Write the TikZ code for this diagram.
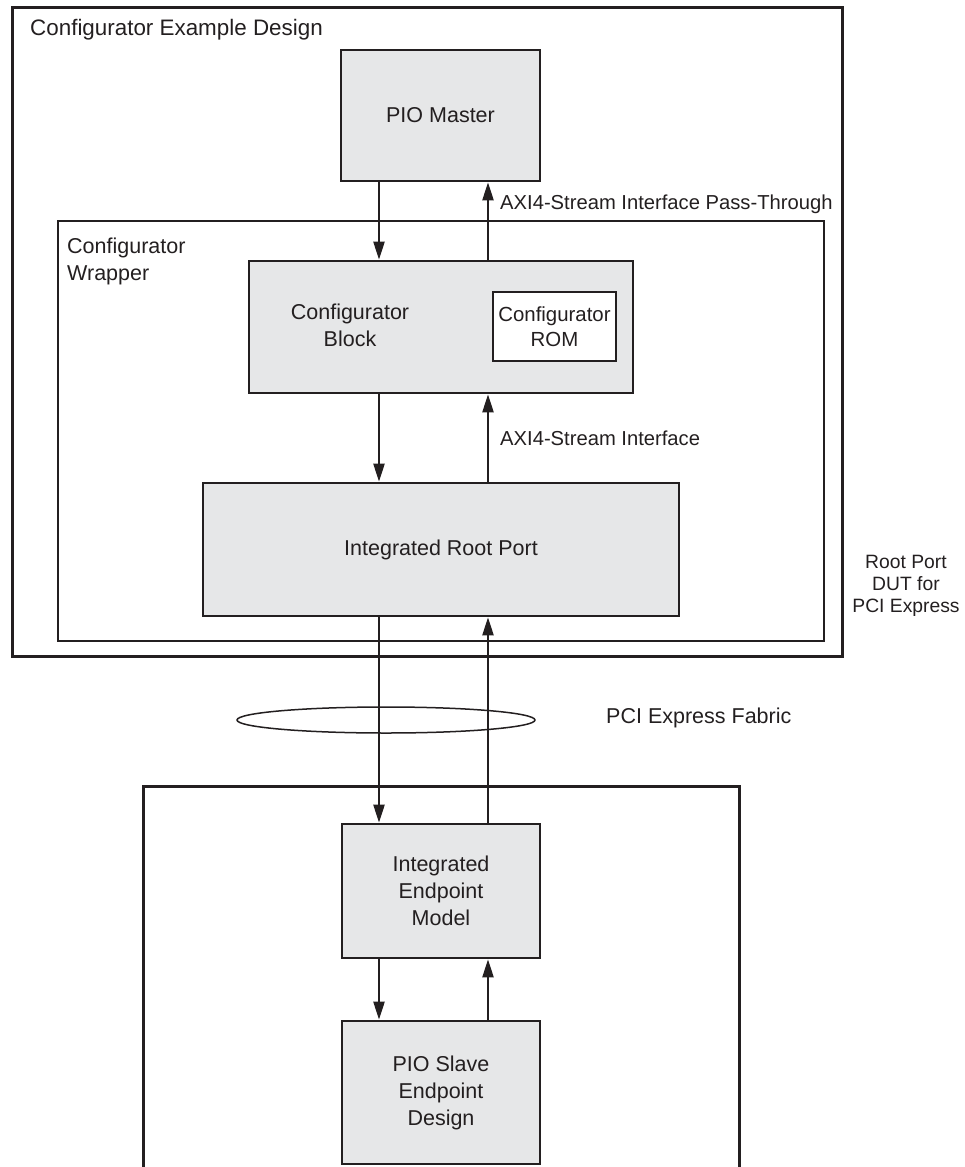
\documentclass[tikz,border=0pt]{standalone}
\usepackage{fontspec}
\setmainfont{Liberation Sans}
\usetikzlibrary{positioning, arrows.meta, shapes.geometric}
\definecolor{ink}{HTML}{231F20}
\definecolor{blockgray}{HTML}{E6E7E8}
\tikzset{
  frame/.style ={draw=ink, line width=3pt},
  wrap/.style  ={draw=ink, line width=2.6pt},
  blk/.style   ={draw=ink, fill=blockgray, line width=2.6pt, inner sep=0pt},
  rom/.style   ={draw=ink, fill=white, line width=2.6pt, inner sep=0pt},
  flow/.style  ={-{Triangle[length=18pt, width=11pt]}, draw=ink, line width=2.2pt},
  lbl/.style   ={font=\fontsize{21.5}{27}\selectfont, text=ink, align=center, inner sep=0pt},
  side/.style  ={lbl, font=\fontsize{20.2}{25}\selectfont, anchor=west},
}

\begin{document}
\begin{tikzpicture}[x=1pt, y=-1pt]
  \useasboundingbox (0,0) rectangle (964,1167);
  % frames
  \draw[frame] (12,7) rectangle (842,656);
  \draw[wrap] (58,221) rectangle (824,641);
  \draw[frame] (143,1175) |- (739,786) -- (739,1175);
  \node[lbl, font=\fontsize{22.4}{27}\selectfont, anchor=base west] (ttl) at (30,35) {Configurator Example Design};
  \node[lbl, anchor=north west, align=left] (wtl) at (67,238) {Configurator\\Wrapper};
  % blocks
  \node[blk, minimum width=199, minimum height=131] (pio) at (440.5,115.5) {};
  \node[lbl] at (pio.center) {PIO Master};
  \node[blk, minimum width=384, minimum height=132] (cfg) at (441,327) {};
  \node[lbl] at (350,325) {Configurator\\Block};
  \node[rom, minimum width=123, minimum height=69] (rom) at (554.5,326.5) {};
  \node[lbl, font=\fontsize{20.4}{25}\selectfont] at (rom.center) {Configurator\\ROM};
  \node[blk, minimum width=476, minimum height=133] (rp) at (441,549.5) {};
  \node[lbl] at (rp.center) {Integrated Root Port};
  \node[blk, minimum width=198, minimum height=134] (ep) at (441,891) {};
  \node[lbl] at (ep.center) {Integrated\\Endpoint\\Model};
  \node[blk, minimum width=198, minimum height=143] (pio2) at (441,1092.5) {};
  \node[lbl] at (pio2.center) {PIO Slave\\Endpoint\\Design};
  % fabric
  \node[draw=ink, ellipse, line width=1.5pt, minimum width=298, minimum height=26, inner sep=0pt] (fab) at (386,720) {};
  % connectors
  \coordinate (dn) at (379,0);
  \coordinate (up) at (488,0);
  \draw[flow] (pio.south -| dn) -- (cfg.north -| dn);
  \draw[flow] (cfg.north -| up) -- (pio.south -| up);
  \draw[flow] (cfg.south -| dn) -- (rp.north -| dn);
  \draw[flow] (rp.north -| up) -- (cfg.south -| up);
  \draw[flow] (rp.south -| dn) -- (ep.north -| dn);
  \draw[flow] (ep.north -| up) -- (rp.south -| up);
  \draw[flow] (ep.south -| dn) -- (pio2.north -| dn);
  \draw[flow] (pio2.north -| up) -- (ep.south -| up);
  % labels
  \node[side] at (500,204) {AXI4-Stream Interface Pass-Through};
  \node[side] at (500,438) {AXI4-Stream Interface};
  \node[lbl, anchor=west] at (606,718) {PCI Express Fabric};
  \node[lbl, font=\fontsize{19.3}{22}\selectfont] at (906,586) {Root Port\\DUT for\\PCI Express};
\end{tikzpicture}
\end{document}
